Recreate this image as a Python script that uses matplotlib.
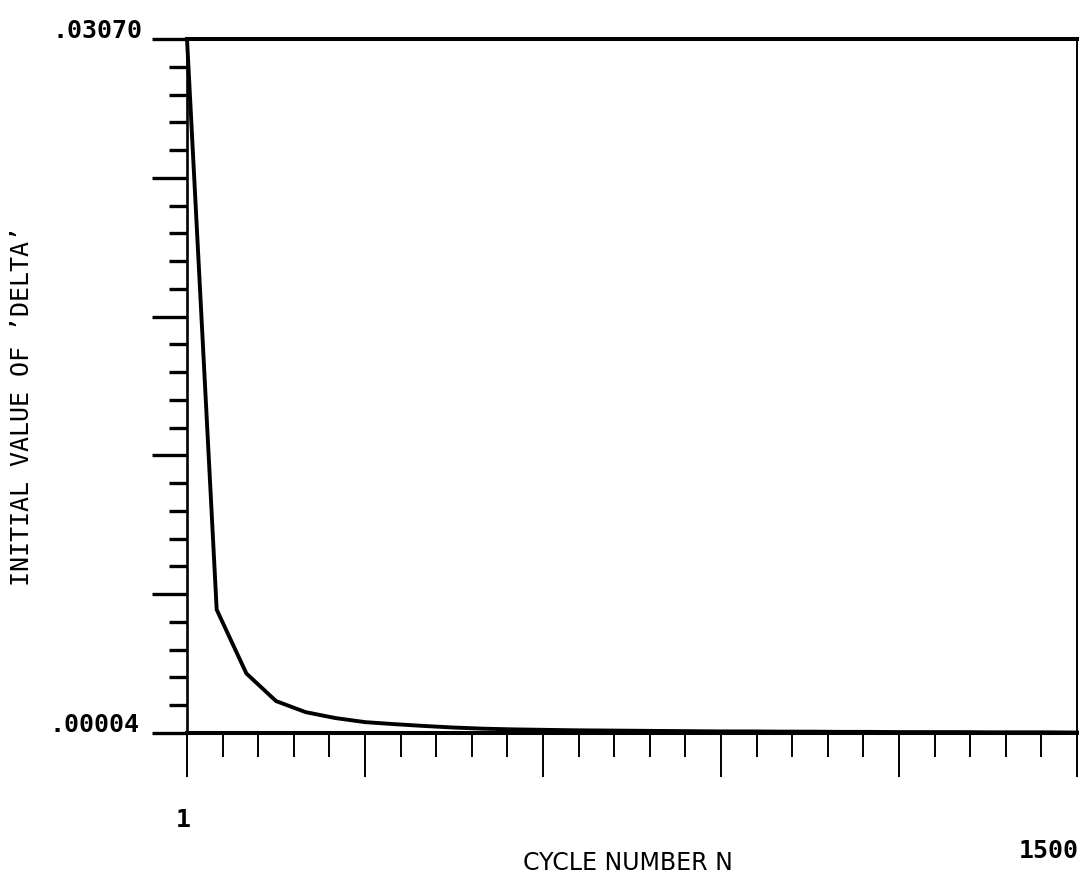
import numpy as np
import matplotlib.pyplot as plt

# valores (un punto cada 50 ciclos)
ciclos = [1, 51, 101, 151, 201, 251, 301, 351, 401, 451, 501, 551, 601, 651,
          701, 751, 801, 851, 901, 951, 1001, 1051, 1101, 1151, 1201, 1251,
          1301, 1351, 1401, 1451, 1500]
delta = [0.03070, 0.00549, 0.00267, 0.00145, 0.00096, 0.00070, 0.00052,
         0.00043, 0.00035, 0.00028, 0.00023, 0.00020, 0.00018, 0.00016,
         0.00015, 0.00014, 0.00013, 0.00012, 0.00011, 0.00011, 0.00010,
         0.00010, 0.00009, 0.00009, 0.00008, 0.00008, 0.00008, 0.00007,
         0.00007, 0.00007, 0.00006]

y_min, y_max = 0.00004, 0.03070
x_min, x_max = 1, 1500
y_labels = [".00004", ".03070"]
x_labels = ["1", "1500"]

W, H = 1084, 883
fig = plt.figure(figsize=(W / 100, H / 100), dpi=100)
ax = fig.add_axes([187 / W, 1 - 733 / H, (1077 - 187) / W, (733 - 39) / H])

ax.plot(ciclos, delta, color="black", linewidth=2.8, clip_on=False,
        solid_joinstyle="miter")

ax.set_xlim(x_min, x_max)
ax.set_ylim(y_min, y_max)

# marcas: 25 divisiones, una mayor cada 5
ax.set_yticks(np.linspace(y_min, y_max, 6))
ax.set_yticks(np.linspace(y_min, y_max, 26), minor=True)
ax.set_xticks(np.linspace(x_min, x_max, 6))
ax.set_xticks(np.linspace(x_min, x_max, 26), minor=True)

ax.tick_params(axis="y", which="major", direction="out", length=25, width=2.4)
ax.tick_params(axis="y", which="minor", direction="out", length=13, width=2.4)
ax.tick_params(axis="x", which="major", direction="out", length=32, width=1.4)
ax.tick_params(axis="x", which="minor", direction="out", length=17, width=1.4)
ax.tick_params(labelleft=False, labelbottom=False)

ax.spines["top"].set_linewidth(2.9)
ax.spines["bottom"].set_linewidth(2.9)
ax.spines["left"].set_linewidth(1.9)
ax.spines["right"].set_linewidth(1.4)

mono = {"family": "DejaVu Sans Mono", "size": 18, "weight": "bold"}

# etiquetas de los extremos
ax.annotate(y_labels[1], xy=(0, y_max), xycoords=("axes fraction", "data"),
            xytext=(-32, 1), textcoords="offset points",
            ha="right", va="baseline", **mono)
ax.annotate(y_labels[0], xy=(0, y_min), xycoords=("axes fraction", "data"),
            xytext=(-34, 1), textcoords="offset points",
            ha="right", va="baseline", **mono)
ax.annotate(x_labels[0], xy=(x_min, 0), xycoords=("data", "axes fraction"),
            xytext=(-3, -68), textcoords="offset points",
            ha="center", va="baseline", **mono)
ax.annotate(x_labels[1], xy=(x_max, 0), xycoords=("data", "axes fraction"),
            xytext=(1.5, -90), textcoords="offset points",
            ha="right", va="baseline", **mono)

fig.text(628 / W, 1 - 870 / H, "CYCLE NUMBER N", ha="center", va="baseline",
         family="DejaVu Sans", size=17)
fig.text(22 / W, 1 - 406 / H, "INITIAL VALUE OF \u2019DELTA\u2019",
         rotation=90, ha="center", va="center",
         family="DejaVu Sans Mono", size=18)

fig.savefig("out.png", dpi=100)
